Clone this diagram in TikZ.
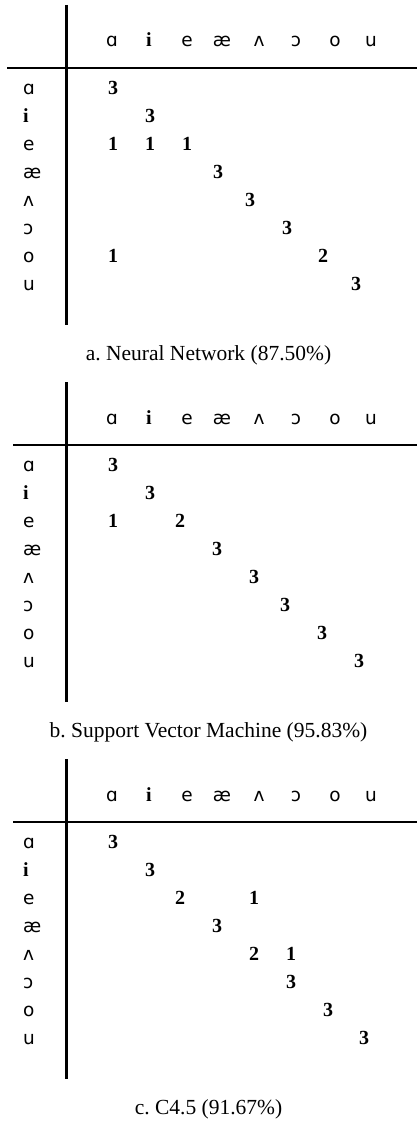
\documentclass[tikz,border=0pt]{standalone}
\usepackage{fontspec}
\setmainfont{Liberation Serif}
\newfontfamily\ipafont{DejaVu Sans}
\newcommand\ipa[1]{{\ipafont\fontsize{18.5}{18.5}\selectfont #1}}
\frenchspacing

\tikzset{
  rule/.style={line width=2.2pt},
  lbl/.style={inner sep=0pt, anchor=base, font=\fontsize{20}{20}\selectfont},
  rowlbl/.style={lbl, anchor=base west},
  num/.style={inner sep=0pt, anchor=base, font=\bfseries\fontsize{20}{20}\selectfont},
  captiontext/.style={inner sep=0pt, anchor=base, font=\fontsize{21.5}{21.5}\selectfont},
}

% One confusion matrix: #1 name, #2 vertical offset, #3 left end of the rule,
% #4 caption, #5 list of row/x/value entries
\newcommand\confpanel[5]{%
  \begin{scope}[shift={(0,#2)}]
    \coordinate (#1-vt) at (66.5,5);
    \coordinate (#1-vb) at (66.5,325);
    \coordinate (#1-hl) at (#3,68);
    \coordinate (#1-hr) at (417,68);
    \draw[rule] (#1-vt) -- (#1-vb);
    \draw[rule] (#1-hl) -- (#1-hr);
    \foreach \t/\x [count=\k] in {\ipa{ɑ}/112, \textbf{i}/149, \ipa{e}/187,
        \ipa{æ}/222, \ipa{ʌ}/259, \ipa{ɔ}/296, \ipa{o}/335, \ipa{u}/371} {
      \node[lbl] (#1-col\k) at (\x,47) {\t};
      \node[rowlbl] (#1-row\k) at (23,{94.5+28*(\k-1)}) {\t};
    }
    \foreach \r/\x/\v [count=\k] in {#5} {
      \node[num] (#1-n\k) at (\x,{94.5+28*\r}) {\v};
    }
    \node[captiontext] (#1-cap) at (208.5,360) {#4};
  \end{scope}}

\begin{document}
\begin{tikzpicture}[x=1pt,y=-1pt]
  \useasboundingbox (0,0) rectangle (417,1121);
  \confpanel{a}{0}{7}{a. Neural Network (87.50\%)}
    {0/113/3, 1/150/3, 2/113/1, 2/150/1, 2/187/1, 3/218/3, 4/250/3,
     5/287/3, 6/113/1, 6/323/2, 7/356/3}
  \confpanel{b}{377}{13}{b. Support Vector Machine (95.83\%)}
    {0/113/3, 1/150/3, 2/113/1, 2/180/2, 3/217/3, 4/254/3,
     5/285/3, 6/322/3, 7/359/3}
  \confpanel{c}{754}{13}{c. C4.5 (91.67\%)}
    {0/113/3, 1/150/3, 2/180/2, 2/254/1, 3/217/3, 4/254/2, 4/291/1,
     5/291/3, 6/328/3, 7/364/3}
\end{tikzpicture}
\end{document}
